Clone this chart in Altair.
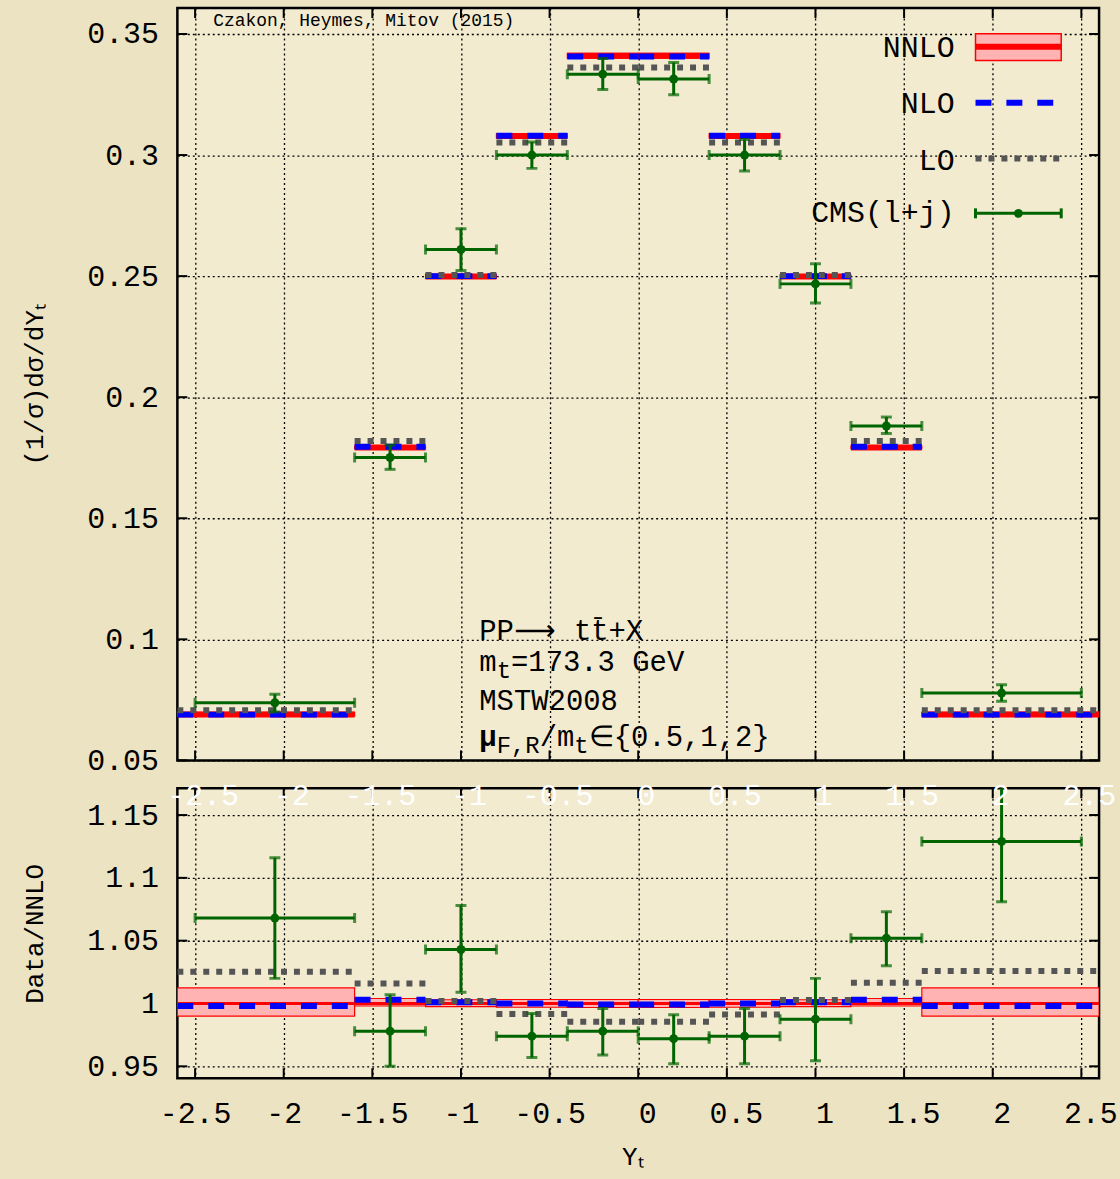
import altair as alt
import pandas as pd

# ---------------- data ----------------
x_ticks = [-2.5, -2.0, -1.5, -1.0, -0.5, 0.0, 0.5, 1.0, 1.5, 2.0, 2.5]
x_tick_labels = ["-2.5", "-2", "-1.5", "-1", "-0.5", "0", "0.5", "1", "1.5", "2", "2.5"]
y_ticks_top = [0.05, 0.1, 0.15, 0.2, 0.25, 0.3, 0.35]
y_ticks_bot = [0.95, 1.0, 1.05, 1.1, 1.15]

theory_lo = [-2.6, -1.6, -1.2, -0.8, -0.4, 0.0, 0.4, 0.8, 1.2, 1.6]
theory_hi = [-1.6, -1.2, -0.8, -0.4, 0.0, 0.4, 0.8, 1.2, 1.6, 2.6]
nnlo = [0.0690, 0.1792, 0.2498, 0.3079, 0.3410, 0.3410, 0.3079, 0.2498, 0.1792, 0.0690]
nnlo_band_lo = [0.0683, 0.1787, 0.2492, 0.3071, 0.3400, 0.3400, 0.3071, 0.2492, 0.1787, 0.0683]
nnlo_band_hi = [0.0698, 0.1798, 0.2505, 0.3088, 0.3420, 0.3420, 0.3088, 0.2505, 0.1798, 0.0698]
nlo = [0.0689, 0.1795, 0.2500, 0.3080, 0.3407, 0.3407, 0.3080, 0.2500, 0.1795, 0.0689]
lo = [0.0707, 0.1819, 0.2505, 0.3052, 0.3362, 0.3362, 0.3052, 0.2505, 0.1819, 0.0707]

ratio_nnlo = [1.0, 1.0, 1.0, 1.0, 1.0, 1.0, 1.0, 1.0, 1.0, 1.0]
ratio_band_lo = [0.9900, 0.9980, 0.9975, 0.9970, 0.9968, 0.9968, 0.9970, 0.9975, 0.9980, 0.9900]
ratio_band_hi = [1.0125, 1.0040, 1.0030, 1.0032, 1.0032, 1.0032, 1.0032, 1.0030, 1.0040, 1.0125]
ratio_nlo = [0.998, 1.003, 1.001, 1.000, 0.9992, 0.9992, 1.000, 1.001, 1.003, 0.998]
ratio_lo = [1.0253, 1.0160, 1.0020, 0.9916, 0.9854, 0.9854, 0.9912, 1.0027, 1.0165, 1.0258]

cms_x = [-2.05, -1.4, -1.0, -0.6, -0.2, 0.2, 0.6, 1.0, 1.4, 2.05]
cms_xlo = [-2.5, -1.6, -1.2, -0.8, -0.4, 0.0, 0.4, 0.8, 1.2, 1.6]
cms_xhi = [-1.6, -1.2, -0.8, -0.4, 0.0, 0.4, 0.8, 1.2, 1.6, 2.5]
cms_y = [0.0738, 0.1751, 0.2610, 0.3000, 0.3334, 0.3314, 0.3000, 0.2468, 0.1881, 0.0778]
cms_ylo = [0.0700, 0.1702, 0.2523, 0.2945, 0.3271, 0.3249, 0.2934, 0.2389, 0.1850, 0.0744]
cms_yhi = [0.0773, 0.1802, 0.2696, 0.3054, 0.3399, 0.3382, 0.3064, 0.2551, 0.1918, 0.0812]
cms_r = [1.068, 0.978, 1.043, 0.974, 0.978, 0.972, 0.974, 0.9875, 1.052, 1.129]
cms_rlo = [1.020, 0.950, 1.009, 0.957, 0.959, 0.952, 0.952, 0.9545, 1.030, 1.081]
cms_rhi = [1.116, 1.007, 1.078, 0.992, 0.996, 0.991, 0.996, 1.020, 1.073, 1.176]

legend_labels = ["NNLO", "NLO", "LO", "CMS(l+j)"]
credit = "Czakon, Heymes, Mitov (2015)"

# ---------------- tables ----------------
theory = pd.DataFrame({
    "lo": theory_lo, "hi": theory_hi, "nnlo": nnlo, "blo": nnlo_band_lo, "bhi": nnlo_band_hi,
    "nlo": nlo, "lo_ord": lo, "r_nnlo": ratio_nnlo, "r_blo": ratio_band_lo,
    "r_bhi": ratio_band_hi, "r_nlo": ratio_nlo, "r_lo": ratio_lo,
})
cms = pd.DataFrame({
    "x": cms_x, "xlo": cms_xlo, "xhi": cms_xhi, "y": cms_y, "ylo": cms_ylo, "yhi": cms_yhi,
    "r": cms_r, "rlo": cms_rlo, "rhi": cms_rhi,
})
xt = pd.DataFrame({"t": x_ticks, "lab": x_tick_labels})
yt_top = pd.DataFrame({"t": y_ticks_top})
yt_bot = pd.DataFrame({"t": y_ticks_bot})
one = pd.DataFrame({"k": [0]})

# ---------------- styling ----------------
FONT = "Liberation Mono"
W, H1, H2 = 925, 755, 291
RED, BLUE, GREY, GREEN, PINK = "#ff0000", "#0000ff", "#555555", "#006400", "#ffb3b3"
GRID = dict(grid=True, gridDash=[2, 3], gridColor="black", gridWidth=1.3, gridOpacity=1)

xs = alt.Scale(domain=[-2.6, 2.6], nice=False, zero=False)
ys_top = alt.Scale(domain=[0.05, 0.3607], nice=False, zero=False)
ys_bot = alt.Scale(domain=[0.9405, 1.1713], nice=False, zero=False)

lab_y = "datum.value + ''"
lab_x = "datum.value + ''"

xax_top = alt.Axis(values=x_ticks, labels=False, ticks=False, tickSize=0, domain=False, title=None, **GRID)
xax_bot = alt.Axis(values=x_ticks, labelExpr=lab_x, ticks=False, tickSize=0, domain=False,
                   labelOffset={"condition": {"test": "datum.value >= 0", "value": 9}, "value": 0},
                   labelPadding=20, title="Yₜ", titleX=W / 2 - 6, titleY=79,
                   titleBaseline="middle", titleAlign="center", **GRID)
yax_top = alt.Axis(values=y_ticks_top, labelExpr=lab_y, ticks=False, tickSize=0, domain=False,
                   labelPadding=19, title="(1/σ)dσ/dYₜ", titleX=-143, titleY=H1 / 2,
                   titleAngle=-90, titleBaseline="middle", titleAlign="center", **GRID)
yax_bot = alt.Axis(values=y_ticks_bot, labelExpr=lab_y, ticks=False, tickSize=0, domain=False,
                   labelPadding=19, title="Data/NNLO", titleX=-143, titleY=H2 / 2,
                   titleAngle=-90, titleBaseline="middle", titleAlign="center", **GRID)


def X(field, ax):
    return alt.X(field, type="quantitative", scale=xs, axis=ax)


def Y(field, sc, ax):
    return alt.Y(field, type="quantitative", scale=sc, axis=ax)


def panel(ys, yax, xax, yt, H, f_mid, f_blo, f_bhi, f_nlo, f_lo, f_d, f_dlo, f_dhi, red_w):
    base_t = alt.Chart(theory)
    base_c = alt.Chart(cms)
    layers = []
    # inward ticks (gnuplot style, mirrored)
    tk = alt.Chart(yt).mark_rule(color="black", strokeWidth=2)
    layers.append(tk.encode(y=Y("t", ys, yax), x=alt.value(0), x2=alt.value(10)))
    layers.append(tk.encode(y=Y("t", ys, yax), x=alt.value(W - 10), x2=alt.value(W)))
    tx = alt.Chart(xt).mark_rule(color="black", strokeWidth=2)
    layers.append(tx.encode(x=X("t", xax), y=alt.value(H - 10), y2=alt.value(H)))
    layers.append(tx.encode(x=X("t", xax), y=alt.value(0), y2=alt.value(10)))
    # theory
    layers.append(base_t.mark_rect(fill=PINK, stroke=RED, strokeWidth=1.2, clip=True).encode(
        x=X("lo", xax), x2="hi", y=Y(f_blo, ys, yax), y2=f_bhi))
    layers.append(base_t.mark_rule(color=RED, strokeWidth=red_w, clip=True).encode(
        x=X("lo", xax), x2="hi", y=Y(f_mid, ys, yax)))
    layers.append(base_t.mark_rule(color=BLUE, strokeWidth=6, strokeDash=[16, 15], clip=True).encode(
        x=X("lo", xax), x2="hi", y=Y(f_nlo, ys, yax)))
    layers.append(base_t.mark_rule(color=GREY, strokeWidth=6, strokeDash=[6, 7], clip=True).encode(
        x=X("lo", xax), x2="hi", y=Y(f_lo, ys, yax)))
    # CMS data
    layers.append(base_c.mark_rule(color=GREEN, strokeWidth=3, clip=True).encode(
        x=X("xlo", xax), x2="xhi", y=Y(f_d, ys, yax)))
    layers.append(base_c.mark_rule(color=GREEN, strokeWidth=3, clip=True).encode(
        x=X("x", xax), y=Y(f_dlo, ys, yax), y2=f_dhi))
    layers.append(base_c.mark_tick(color=GREEN, orient="vertical", size=10, thickness=3, clip=True).encode(
        x=X("xlo", xax), y=Y(f_d, ys, yax)))
    layers.append(base_c.mark_tick(color=GREEN, orient="vertical", size=10, thickness=3, clip=True).encode(
        x=X("xhi", xax), y=Y(f_d, ys, yax)))
    layers.append(base_c.mark_tick(color=GREEN, orient="horizontal", size=11, thickness=3, clip=True).encode(
        x=X("x", xax), y=Y(f_dlo, ys, yax)))
    layers.append(base_c.mark_tick(color=GREEN, orient="horizontal", size=11, thickness=3, clip=True).encode(
        x=X("x", xax), y=Y(f_dhi, ys, yax)))
    layers.append(base_c.mark_point(color=GREEN, filled=True, opacity=1, size=80, clip=True).encode(
        x=X("x", xax), y=Y(f_d, ys, yax)))
    return layers


top_layers = panel(ys_top, yax_top, xax_top, yt_top, H1, "nnlo", "blo", "bhi", "nlo", "lo_ord",
                   "y", "ylo", "yhi", 6)

# credit line
top_layers.append(alt.Chart(one).mark_text(font=FONT, fontSize=18, align="left", baseline="middle",
                                           color="black").encode(
    text=alt.value(credit), x=alt.value(36), y=alt.value(13)))

# process text block
def txt(s, x, y, size=29, weight="normal", font=FONT):
    return alt.Chart(one).mark_text(font=font, fontSize=size, align="left", baseline="middle",
                                    color="black", fontWeight=weight).encode(
        text=alt.value(s), x=alt.value(x), y=alt.value(y))

top_layers += [
    txt("PP", 303, 625), txt("⟶", 338, 625, 29, "normal", "DejaVu Sans"), txt("tt̄+X", 398, 625),
    txt("m", 303, 656), txt("t", 320.4, 665, 24), txt("=173.3 GeV", 334.8, 656),
    txt("MSTW2008", 303, 695),
    txt("μ", 303, 732, 29, "bold"), txt("F,R", 320.4, 741, 24), txt("/m", 363.6, 732),
    txt("t", 398.4, 741, 24), txt("∈{0.5,1,2}", 412.8, 732),
]

# legend
legend_y = [39.7, 96, 153, 206]
LX0, LX1 = 801, 887
for lab, yy in zip(legend_labels, legend_y):
    top_layers.append(alt.Chart(one).mark_text(font=FONT, fontSize=30, align="right", baseline="middle",
                                               color="black").encode(
        text=alt.value(lab), x=alt.value(780), y=alt.value(yy)))
top_layers.append(alt.Chart(one).mark_rect(fill=PINK, stroke=RED, strokeWidth=1.5).encode(
    x=alt.value(LX0), x2=alt.value(LX1), y=alt.value(legend_y[0] - 14), y2=alt.value(legend_y[0] + 13)))
top_layers.append(alt.Chart(one).mark_rule(color=RED, strokeWidth=6).encode(
    x=alt.value(LX0), x2=alt.value(LX1), y=alt.value(legend_y[0] - 1)))
top_layers.append(alt.Chart(one).mark_rule(color=BLUE, strokeWidth=6, strokeDash=[16, 15]).encode(
    x=alt.value(LX0), x2=alt.value(LX1), y=alt.value(legend_y[1] - 1)))
top_layers.append(alt.Chart(one).mark_rule(color=GREY, strokeWidth=6, strokeDash=[6, 7]).encode(
    x=alt.value(LX0), x2=alt.value(LX1), y=alt.value(legend_y[2] - 2)))
top_layers.append(alt.Chart(one).mark_rule(color=GREEN, strokeWidth=3).encode(
    x=alt.value(LX0), x2=alt.value(LX1), y=alt.value(legend_y[3])))
top_layers.append(alt.Chart(one).mark_rule(color=GREEN, strokeWidth=3).encode(
    x=alt.value(LX0), y=alt.value(legend_y[3] - 5), y2=alt.value(legend_y[3] + 5)))
top_layers.append(alt.Chart(one).mark_rule(color=GREEN, strokeWidth=3).encode(
    x=alt.value(LX1), y=alt.value(legend_y[3] - 5), y2=alt.value(legend_y[3] + 5)))
top_layers.append(alt.Chart(one).mark_point(color=GREEN, filled=True, opacity=1, size=80).encode(
    x=alt.value((LX0 + LX1) / 2), y=alt.value(legend_y[3])))

top = alt.layer(*top_layers).properties(width=W, height=H1)

bot_layers = panel(ys_bot, yax_bot, xax_bot, yt_bot, H2, "r_nnlo", "r_blo", "r_bhi", "r_nlo", "r_lo",
                   "r", "rlo", "rhi", 3)
# white mirrored tick labels at the top of the ratio panel
bot_layers.append(alt.Chart(xt).mark_text(font=FONT, fontSize=30, color="white", baseline="middle",
                                          align="center", dx=8).encode(
    x=X("t", xax_bot), y=alt.value(8), text="lab:N"))

bottom = alt.layer(*bot_layers).properties(width=W, height=H2)

chart = alt.vconcat(top, bottom, spacing=28, bounds="flush").properties(
    background="#ece3c3",
    padding={"left": 20, "top": 3, "right": 1, "bottom": 6},
).configure_view(
    fill="#f2ebd0", stroke="black", strokeWidth=2.5
).configure_axis(
    labelFont=FONT, labelFontSize=30, labelColor="black",
    titleFont=FONT, titleFontSize=26, titleColor="black", titleFontWeight="normal",
)

chart.save("out.html", embed_options={"renderer": "svg", "actions": False})
